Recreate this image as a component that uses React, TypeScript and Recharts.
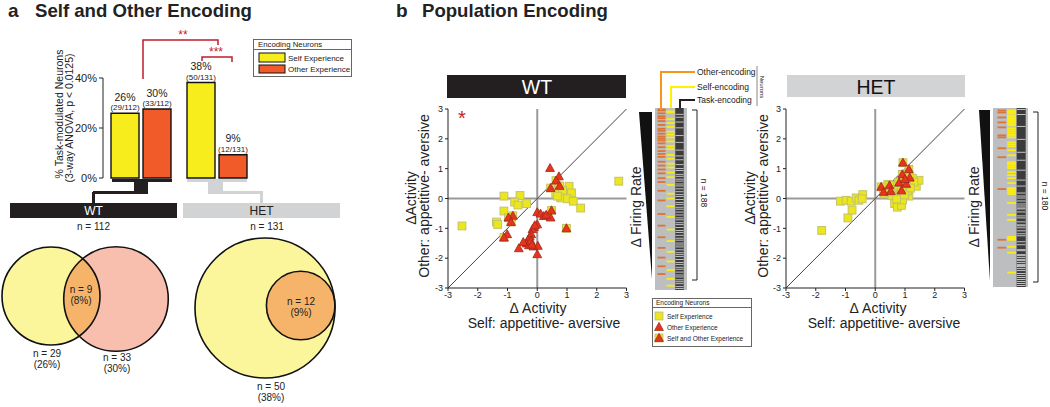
import React from "react";
import {
  BarChart,
  Bar,
  XAxis,
  YAxis,
  LabelList,
  ScatterChart,
  Scatter,
  ReferenceLine,
  ReferenceArea,
} from "recharts";

const FONT = "'Liberation Sans', Arial, Helvetica, sans-serif";

// ---- panel a: % task-modulated neurons ----
const genotypes = ["WT", "HET"];
const selfPct = [25.9, 38.2];
const otherPct = [27.6, 9.3];
const selfPctText = ["26%", "38%"];
const otherPctText = ["30%", "9%"];
const selfFrac = ["(29/112)", "(50/131)"];
const otherFrac = ["(33/112)", "(12/131)"];
const taskN = [112, 131];
const pctTicks = [0, 20, 40];

// ---- panel a: venn counts ----
const wtVennN = [29, 33];
const wtVennPct = ["(26%)", "(30%)"];
const wtOverlapN = 9;
const wtOverlapPct = "(8%)";
const hetVennN = [50, 12];
const hetVennPct = ["(38%)", "(9%)"];

// ---- panel b: delta activity (self, other) ----
const axisTicks = [-3, -2, -1, 0, 1, 2, 3];
const wtSelfOnly: [number, number][] = [
  [-2.53, -0.92], [-1.12, 0.08], [-0.58, 0.1], [-0.76, -0.12], [-0.65, -0.22],
  [-0.36, -0.17], [-1.12, -0.42], [-1.37, -0.79], [-1.33, -0.87], [2.74, 0.58],
  [1.07, 0.41], [1.15, 0.19], [0.73, 0.13], [0.79, 0.02], [1.01, -0.01],
  [1.21, -0.09], [1.46, -0.32], [0.62, 0.19], [0.85, 0.28], [0.68, 0.08],
];
const wtBoth: [number, number][] = [
  [-1.12, -1.31], [0.98, -1.0], [0.48, -0.4], [0.63, 0.6], [0.75, 0.42],
  [-0.82, -0.58], [-0.97, -0.64], [-0.88, -0.79], [0.45, 0.35],
];
const wtOtherOnly: [number, number][] = [
  [0.43, 1.02], [0.73, 0.74], [0.0, -0.46], [0.11, -0.51], [0.22, -0.59],
  [0.45, -0.64], [0.0, -0.87], [-0.11, -0.96], [-0.16, -1.03], [-0.2, -1.2],
  [-0.25, -1.28], [-0.31, -1.39], [-0.36, -1.51], [-0.28, -1.57], [-0.13, -1.61],
  [0.02, -1.59], [0.0, -1.87], [-0.62, -1.67], [-1.01, -1.2], [-0.47, -1.46],
  [-0.22, -1.42], [-0.08, -0.9], [0.3, -0.55], [-0.18, -1.55],
];
const hetSelfOnly: [number, number][] = [
  [-1.8, -1.07], [-0.92, -0.65], [-0.78, -0.39], [-1.17, -0.09], [-0.98, -0.06],
  [-0.81, -0.09], [-0.64, 0.02], [-0.55, -0.06], [-0.42, 0.13], [-0.44, -0.01],
  [0.36, 0.28], [0.42, 0.47], [0.6, 0.19], [0.65, -0.17], [0.74, -0.29],
  [0.88, -0.23], [0.82, 0.08], [1.13, 0.08], [1.21, 0.47], [1.38, 0.41],
  [1.47, 0.61], [1.02, 0.62], [0.7, 0.35], [0.95, 0.38], [1.25, 0.68],
  [0.55, 0.1], [0.92, -0.05], [1.08, 0.25], [0.78, 0.55], [0.3, 0.15],
  [1.3, 0.55], [0.62, 0.42], [1.1, 0.85], [0.45, 0.22], [0.85, 0.18],
  [1.18, 0.35], [0.72, -0.02], [0.98, 0.12],
];
const hetBoth: [number, number][] = [
  [0.93, 1.2], [1.13, 0.98], [0.91, 0.81], [1.16, 0.7], [0.8, 0.53], [1.04, 0.49],
  [0.2, 0.39], [0.48, 0.44], [0.28, 0.22], [0.52, 0.25], [0.88, 0.27], [1.0, 0.65],
];
const hetOtherOnly: [number, number][] = [];

// ---- panel b: neuron strips (row index, sorted by delta firing rate) ----
const wtRows = 188;
const wtOtherRows = [1, 2, 5, 8, 10, 13, 17, 21, 23, 26, 29, 31, 33, 36, 40, 44, 47, 50, 55, 59, 63, 67, 72, 76, 85, 95, 109, 121, 133, 144, 154, 163, 171];
const wtSelfRows = [3, 4, 11, 15, 19, 24, 27, 30, 34, 39, 42, 48, 52, 57, 61, 66, 71, 79, 88, 93, 101, 112, 125, 137, 148, 158, 167, 176, 183];
const wtNonTaskRows = [6, 9, 14, 20, 28, 35, 43, 49, 53, 58, 62, 64, 68, 70, 73, 75, 78, 80, 83, 86, 89, 91, 94, 97, 99, 102, 104, 107, 110, 113, 115, 118, 120, 123, 126, 128, 131, 134, 136, 139, 141, 143, 146, 149, 151, 153, 156, 159, 161, 164, 166, 169, 172, 174, 177, 179, 181, 184, 186];
const hetRows = 180;
const hetOtherRows = [2, 4, 9, 14, 19, 27, 29, 40, 49, 81, 132, 140];
const hetSelfRows = [2, 3, 4, 5, 7, 8, 9, 10, 11, 12, 13, 14, 15, 16, 17, 20, 22, 24, 26, 27, 29, 34, 36, 38, 42, 47, 54, 55, 56, 58, 60, 64, 67, 70, 75, 80, 81, 82, 84, 86, 95, 107, 112, 129, 130, 131, 132, 139, 145, 165];
const hetNonTaskRows = [1, 6, 18, 31, 44, 52, 62, 72, 78, 85, 88, 90, 93, 96, 98, 100, 101, 104, 108, 110, 114, 117, 118, 120, 123, 126, 128, 134, 137, 142, 143, 147, 148, 150, 152, 153, 155, 157, 158, 159, 161, 163, 166, 168, 170, 172, 174, 176, 178];

const YELLOW = "#f7ed1d";
const ORANGE = "#f15a29";
const RED = "#be1e2d";
const DARK = "#231f20";
const GREY = "#d1d3d4";

const barData = genotypes.map((g, i) => ({ g, self: selfPct[i], other: otherPct[i] }));

const pctLabel = (pct: string[], frac: string[]) => (p: any) => {
  const cx = p.x + p.width / 2;
  return (
    <g>
      <text x={cx} y={p.y - 12.5} textAnchor="middle" fontSize={10.5} fill="#222" fontFamily={FONT}>{pct[p.index]}</text>
      <text x={cx} y={p.y - 3} textAnchor="middle" fontSize={8} fill="#222" fontFamily={FONT}>{frac[p.index]}</text>
    </g>
  );
};

function PctBars() {
  return (
    <div style={{ position: "absolute", left: 0, top: 0 }}>
      <BarChart width={262} height={184} data={barData} margin={{ top: 78, right: 7, bottom: 6, left: 63 }} barSize={28} barGap={4}>
        <XAxis dataKey="g" hide />
        <YAxis
          domain={[0, 40]}
          ticks={pctTicks}
          interval={0}
          width={40}
          tickFormatter={(v) => `${v}%`}
          tick={{ fontSize: 11, fill: "#222", fontFamily: FONT }}
          tickSize={4}
          axisLine={{ stroke: "#222" }}
          tickLine={{ stroke: "#222" }}
        />
        <Bar dataKey="self" fill={YELLOW} stroke="#111" strokeWidth={1.4} isAnimationActive={false}>
          <LabelList dataKey="self" content={pctLabel(selfPctText, selfFrac)} />
        </Bar>
        <Bar dataKey="other" fill={ORANGE} stroke="#111" strokeWidth={1.4} isAnimationActive={false}>
          <LabelList dataKey="other" content={pctLabel(otherPctText, otherFrac)} />
        </Bar>
      </BarChart>
    </div>
  );
}

type VennCircle = { x: number; y: number; r: number; fill: string };

function Venn({ left, top, width, height, circles, lensFill, id }: {
  left: number; top: number; width: number; height: number; circles: VennCircle[]; lensFill?: string; id: string;
}) {
  const [a, b] = circles;
  const lens = lensFill ? [{ x: b.x, y: b.y, r: b.r }] : [];
  return (
    <div style={{ position: "absolute", left, top }}>
      <ScatterChart width={width} height={height} margin={{ top: 0, right: 0, bottom: 0, left: 0 }}>
        <XAxis type="number" dataKey="x" domain={[0, width]} hide />
        <YAxis type="number" dataKey="y" domain={[0, height]} reversed hide />
        <Scatter data={circles} isAnimationActive={false}
          shape={(p: any) => <circle cx={p.cx} cy={p.cy} r={p.payload.r} fill={p.payload.fill} />} />
        <Scatter data={lens} isAnimationActive={false}
          shape={(p: any) => (
            <g>
              <defs>
                <clipPath id={id}>
                  <circle cx={a.x} cy={a.y} r={a.r} />
                </clipPath>
              </defs>
              <circle cx={p.cx} cy={p.cy} r={p.payload.r} fill={lensFill} clipPath={`url(#${id})`} />
            </g>
          )} />
        <Scatter data={circles} isAnimationActive={false}
          shape={(p: any) => <circle cx={p.cx} cy={p.cy} r={p.payload.r} fill="none" stroke="#111" strokeWidth={1.6} />} />
      </ScatterChart>
    </div>
  );
}

const SquareMark = (p: any) => (
  <rect x={p.cx - 3.9} y={p.cy - 3.9} width={7.8} height={7.8} fill="#ebe71c" stroke="#c4c26a" strokeWidth={1} />
);
const TriMark = (p: any) => (
  <path d={`M${p.cx},${p.cy - 4.6} L${p.cx + 4.4},${p.cy + 3.4} L${p.cx - 4.4},${p.cy + 3.4} Z`} fill="#e8341c" stroke="#9c2a1c" strokeWidth={0.8} />
);

const toPts = (a: [number, number][]) => a.map(([x, y]) => ({ x, y }));

function ActivityScatter({ left, selfOnly, both, otherOnly }: {
  left: number; selfOnly: [number, number][]; both: [number, number][]; otherOnly: [number, number][];
}) {
  const tick = { fontSize: 9, fill: "#222", fontFamily: FONT };
  return (
    <div style={{ position: "absolute", left, top: 100 }}>
      <ScatterChart width={222} height={204} margin={{ top: 9, right: 13.5, bottom: 0, left: 10 }}>
        <XAxis type="number" dataKey="x" domain={[-3, 3]} ticks={axisTicks} interval={0} tick={tick} tickSize={3} tickMargin={1}
          height={16} axisLine={{ stroke: "#222" }} tickLine={{ stroke: "#222" }} allowDataOverflow />
        <YAxis type="number" dataKey="y" domain={[-3, 3]} ticks={axisTicks} interval={0} tick={tick} tickSize={3} tickMargin={2}
          width={20} axisLine={{ stroke: "#222" }} tickLine={{ stroke: "#222" }} allowDataOverflow />
        <ReferenceLine x={0} stroke="#9a9a9a" strokeWidth={2} />
        <ReferenceLine y={0} stroke="#9a9a9a" strokeWidth={2} />
        <ReferenceLine segment={[{ x: -3, y: -3 }, { x: 3, y: 3 }]} stroke="#444" strokeWidth={1} />
        <Scatter data={toPts(selfOnly)} shape={SquareMark} isAnimationActive={false} />
        <Scatter data={toPts(both)} shape={SquareMark} isAnimationActive={false} />
        <Scatter data={toPts(otherOnly)} shape={TriMark} isAnimationActive={false} />
        <Scatter data={toPts(both)} shape={TriMark} isAnimationActive={false} />
      </ScatterChart>
    </div>
  );
}

function NeuronStrip({ left, width, height, n, other, self, nonTask, padL, padR }: {
  left: number; width: number; height: number; n: number; other: number[]; self: number[]; nonTask: number[]; padL: number; padR: number;
}) {
  const colW = (width - padL - padR) / 3 - 1;
  const rowH = height / n;
  const rows = (list: number[], col: number) => list.map((i) => ({ x: col + 0.5, y: i + 0.5 }));
  const tickMark = (color: string, h: number) => (p: any) => (
    <rect x={p.cx - colW / 2} y={p.cy - h / 2} width={colW} height={h} fill={color} />
  );
  return (
    <div style={{ position: "absolute", left, top: 108, background: "#bcbec0" }}>
      <ScatterChart width={width} height={height} margin={{ top: 0, right: padR, bottom: 0, left: padL }}>
        <XAxis type="number" dataKey="x" domain={[0, 3]} hide />
        <YAxis type="number" dataKey="y" domain={[0, n]} reversed hide />
        <ReferenceArea x1={2.03} x2={2.97} y1={0} y2={n} fill="#3b3b3b" fillOpacity={1} stroke="none" />
        <Scatter data={rows(nonTask, 2)} shape={tickMark("#d4d4d4", rowH * 0.9)} isAnimationActive={false} />
        <Scatter data={rows(other, 0)} shape={tickMark("#dc7436", 1.8)} isAnimationActive={false} />
        <Scatter data={rows(self, 1)} shape={tickMark("#f9ec16", 1.8)} isAnimationActive={false} />
      </ScatterChart>
    </div>
  );
}

const T = (props: any) => <text fontFamily={FONT} fill="#222" {...props} />;

function Overlay() {
  return (
    <svg width={1050} height={407} style={{ position: "absolute", left: 0, top: 0, pointerEvents: "none" }}>
      {/* panel a titles */}
      <T x={8} y={17} fontSize={19} fontWeight="bold">a</T>
      <T x={35} y={17} fontSize={18.6} fontWeight="bold">Self and Other Encoding</T>
      <T transform="translate(63,114) rotate(-90)" textAnchor="middle" fontSize={10.5}>% Task-modulated Neurons</T>
      <T transform="translate(72.5,118) rotate(-90)" textAnchor="middle" fontSize={10.5}>(3-way ANOVA, p &lt; 0.0125)</T>

      {/* significance */}
      <path d="M143,79 V40 H218 V45" fill="none" stroke={RED} strokeWidth={1.5} />
      <T x={183} y={39} fontSize={12} fill={RED} textAnchor="middle">**</T>
      <path d="M202,61 V57 H232 V62" fill="none" stroke={RED} strokeWidth={1.5} />
      <T x={216} y={56} fontSize={12} fill={RED} textAnchor="middle">***</T>

      {/* legend a */}
      <rect x={253.5} y={39.5} width={98} height={37} fill="#fff" stroke="#666" />
      <line x1={253.5} x2={351.5} y1={49.5} y2={49.5} stroke="#666" />
      <T x={258} y={46.5} fontSize={7.8}>Encoding Neurons</T>
      <rect x={259} y={53} width={26} height={9} fill={YELLOW} stroke="#111" />
      <rect x={259} y={65} width={26} height={8} fill={ORANGE} stroke="#111" />
      <T x={288} y={61} fontSize={8}>Self Experience</T>
      <T x={288} y={72} fontSize={8}>Other Experience</T>

      {/* genotype connectors */}
      <rect x={112} y={179} width={60} height={3} fill={DARK} />
      <rect x={134} y={182} width={14} height={11} fill={DARK} />
      <rect x={93} y={191} width={55} height={3} fill={DARK} />
      <rect x={92} y={192} width={3} height={11} fill={DARK} />
      <rect x={187} y={179} width={60} height={3} fill={GREY} />
      <rect x={208} y={182} width={15} height={11} fill={GREY} />
      <rect x={208} y={191} width={55} height={3} fill={GREY} />
      <rect x={260} y={192} width={3} height={11} fill={GREY} />
      <rect x={10} y={203} width={167} height={15} fill={DARK} />
      <T x={93.5} y={215} fontSize={12} fill="#fff" textAnchor="middle">{genotypes[0]}</T>
      <rect x={183} y={203} width={157} height={15} fill={GREY} />
      <T x={261.5} y={215} fontSize={12} textAnchor="middle">{genotypes[1]}</T>
      <T x={93.5} y={230} fontSize={10} textAnchor="middle">n = {taskN[0]}</T>
      <T x={267} y={230} fontSize={10} textAnchor="middle">n = {taskN[1]}</T>

      {/* venn labels */}
      <T x={81} y={293} fontSize={10} textAnchor="middle">n = {wtOverlapN}</T>
      <T x={81} y={304} fontSize={10} textAnchor="middle">{wtOverlapPct}</T>
      <T x={47} y={357} fontSize={10} textAnchor="middle">n = {wtVennN[0]}</T>
      <T x={47} y={368} fontSize={10} textAnchor="middle">{wtVennPct[0]}</T>
      <T x={117} y={361} fontSize={10} textAnchor="middle">n = {wtVennN[1]}</T>
      <T x={117} y={372} fontSize={10} textAnchor="middle">{wtVennPct[1]}</T>
      <T x={301} y={305} fontSize={10} textAnchor="middle">n = {hetVennN[1]}</T>
      <T x={301} y={316} fontSize={10} textAnchor="middle">{hetVennPct[1]}</T>
      <T x={271} y={390} fontSize={10} textAnchor="middle">n = {hetVennN[0]}</T>
      <T x={271} y={401} fontSize={10} textAnchor="middle">{hetVennPct[0]}</T>

      {/* panel b titles */}
      <T x={396} y={17} fontSize={19} fontWeight="bold">b</T>
      <T x={422} y={17} fontSize={18.6} fontWeight="bold">Population Encoding</T>

      {/* headers */}
      <rect x={447} y={75} width={179} height={23} fill={DARK} />
      <T x={537} y={94} fontSize={19.5} fill="#fff" textAnchor="middle">WT</T>
      <rect x={787} y={75} width={178} height={22} fill={GREY} />
      <T x={876} y={93.5} fontSize={19.5} fill="#111" textAnchor="middle">HET</T>

      {/* axis labels */}
      <T transform="translate(416,198) rotate(-90)" textAnchor="middle" fontSize={14}>ΔActivity</T>
      <T transform="translate(429,196) rotate(-90)" textAnchor="middle" fontSize={14}>Other: appetitive- aversive</T>
      <T x={538} y={313} textAnchor="middle" fontSize={14}>Δ Activity</T>
      <T x={544} y={328} textAnchor="middle" fontSize={14}>Self: appetitive- aversive</T>
      <T transform="translate(755,198) rotate(-90)" textAnchor="middle" fontSize={14}>ΔActivity</T>
      <T transform="translate(768,196) rotate(-90)" textAnchor="middle" fontSize={14}>Other: appetitive- aversive</T>
      <T x={878} y={313} textAnchor="middle" fontSize={14}>Δ Activity</T>
      <T x={884} y={328} textAnchor="middle" fontSize={14}>Self: appetitive- aversive</T>
      <T x={462} y={125} textAnchor="middle" fontSize={20} fill={RED}>*</T>

      {/* firing-rate wedges */}
      <T transform="translate(641,207) rotate(-90)" textAnchor="middle" fontSize={14}>Δ Firing Rate</T>
      <polygon points="639,112 652,112 652,279" fill="#111" />
      <T transform="translate(979,207) rotate(-90)" textAnchor="middle" fontSize={14}>Δ Firing Rate</T>
      <polygon points="979,110 990,110 990,281" fill="#111" />

      {/* strip legend */}
      <path d="M661,110 V72 H695" fill="none" stroke="#f7941d" strokeWidth={2} />
      <path d="M671,108 V87 H695" fill="none" stroke="#fff200" strokeWidth={2} />
      <path d="M680,108 V100 H695" fill="none" stroke={DARK} strokeWidth={2} />
      <T x={697} y={75} fontSize={8.5}>Other-encoding</T>
      <T x={697} y={90} fontSize={8.5}>Self-encoding</T>
      <T x={697} y={103} fontSize={8.5}>Task-encoding</T>
      <line x1={757} x2={757} y1={66} y2={106} stroke="#888" />
      <T transform="translate(760,87) rotate(90)" textAnchor="middle" fontSize={6}>Neurons</T>

      {/* strip brackets */}
      <path d="M692,110 H697 V280 H692" fill="none" stroke="#222" />
      <T transform="translate(701,193) rotate(90)" textAnchor="middle" fontSize={8.5}>n = {wtRows}</T>
      <path d="M1033,112 H1038 V282 H1033" fill="none" stroke="#222" />
      <T transform="translate(1042,196) rotate(90)" textAnchor="middle" fontSize={8.5}>n = {hetRows}</T>

      {/* legend b */}
      <rect x={652.5} y={298.5} width={99} height={48} fill="#fff" stroke="#666" />
      <line x1={652.5} x2={751.5} y1={307.5} y2={307.5} stroke="#666" />
      <T x={656} y={305} fontSize={6.5}>Encoding Neurons</T>
      <SquareMark cx={659} cy={316} />
      <T x={667} y={318.5} fontSize={6.5}>Self Experience</T>
      <TriMark cx={659} cy={327} />
      <T x={667} y={329.5} fontSize={6.5}>Other Experience</T>
      <SquareMark cx={659} cy={338} />
      <TriMark cx={659} cy={338} />
      <T x={667} y={340.5} fontSize={6.5}>Self and Other Experience</T>
    </svg>
  );
}

const WT_K = 9.1;
const HET_K = 9.9;
const wtR = wtVennN.map((n) => WT_K * Math.sqrt(n));
const hetR = hetVennN.map((n) => HET_K * Math.sqrt(n));
const wtCircles: VennCircle[] = [
  { x: 51, y: 56, r: wtR[0], fill: "#fbf59c" },
  { x: 116, y: 59, r: wtR[1], fill: "#f9bfae" },
];
const hetCircles: VennCircle[] = [
  { x: 85, y: 78, r: hetR[0], fill: "#fbf59c" },
  { x: 85 + hetR[0] - hetR[1], y: 75.5, r: hetR[1], fill: "#f6b46b" },
];

export default function App() {
  return (
    <div style={{ position: "absolute", left: 0, top: 0, width: 1050, height: 407, background: "#fff", fontFamily: FONT, overflow: "hidden" }}>
      <PctBars />
      <Venn id="wtLens" left={0} top={240} width={175} height={120} circles={wtCircles} lensFill="#f6b46b" />
      <Venn id="hetLens" left={180} top={230} width={170} height={160} circles={hetCircles} lensFill="#f6b46b" />
      <ActivityScatter left={418} selfOnly={wtSelfOnly} both={wtBoth} otherOnly={wtOtherOnly} />
      <ActivityScatter left={756} selfOnly={hetSelfOnly} both={hetBoth} otherOnly={hetOtherOnly} />
      <NeuronStrip left={655} width={32} height={182} n={wtRows} other={wtOtherRows} self={wtSelfRows} nonTask={wtNonTaskRows} padL={2} padR={3} />
      <NeuronStrip left={993} width={35} height={179} n={hetRows} other={hetOtherRows} self={hetSelfRows} nonTask={hetNonTaskRows} padL={4} padR={2} />
      <Overlay />
    </div>
  );
}
